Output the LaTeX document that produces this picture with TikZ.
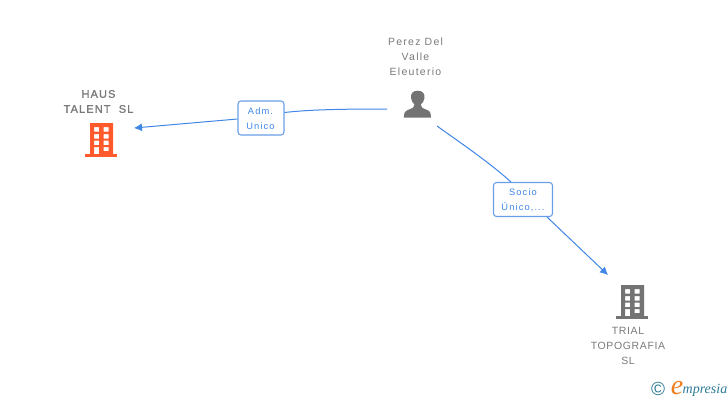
\documentclass[tikz,border=0pt]{standalone}
\usepackage{fontspec}
\setmainfont{Liberation Sans}
\newfontfamily\spacedfont[LetterSpace=12]{Liberation Sans}
\newfontfamily\tightspaced[LetterSpace=6]{Liberation Sans}
\newfontfamily\boldspaced[LetterSpace=10,FakeBold=1.5,WordSpace=2]{Liberation Sans}
\newfontfamily\logofont{Liberation Serif}
\usetikzlibrary{arrows.meta}
\definecolor{linkblue}{HTML}{3F86E6}
\definecolor{boxblue}{HTML}{6A9FE6}
\definecolor{txtgray}{HTML}{7A7A7A}
\definecolor{icongray}{HTML}{737373}
\definecolor{iconorange}{HTML}{FF5A2C}
\definecolor{logoteal}{HTML}{2C7A96}
\definecolor{logoorange}{HTML}{EE7D1E}
\tikzset{
  nametext/.style={text=txtgray,align=center,font=\fontsize{10.5}{15}\selectfont\spacedfont,inner sep=0pt},
  trialtext/.style={text=txtgray,align=center,font=\fontsize{10.5}{15}\selectfont\tightspaced,inner sep=0pt},
  boldname/.style={text=txtgray,align=center,font=\fontsize{11}{15}\selectfont\boldspaced,inner sep=0pt},
  rolebox/.style={draw=boxblue,line width=1.1pt,rounded corners=3pt,fill=white,inner sep=0pt},
  roletext/.style={text=linkblue,align=center,font=\fontsize{9.3}{15}\selectfont\spacedfont,inner sep=0pt},
  link/.style={draw=linkblue,line width=1pt},
  linkarrow/.style={link,-{Latex[length=8pt,width=8pt]}},
  iconspot/.style={inner sep=0pt,minimum width=#1,minimum height=#1},
}
\newcommand{\buildingicon}[3]{%
  \begin{scope}[shift={(#1,#2)}]
    \fill[#3] (85,154) rectangle (117,157);
    \fill[#3,even odd rule] (90,123) rectangle (113,154)
      (94,127) rectangle (99,131.5) (103.5,127) rectangle (108.5,131.5)
      (94,134) rectangle (99,138.5) (103.5,134) rectangle (108.5,138.5)
      (94,140.5) rectangle (99,145) (103.5,140.5) rectangle (108.5,145)
      (94,147) rectangle (99,154) (103.5,147) rectangle (108.5,151);
  \end{scope}}
\begin{document}
\begin{tikzpicture}[x=1pt,y=-1pt]
\useasboundingbox (0,0) rectangle (728,400);
\node[boldname] (haus) at (98.5,101.5) {HAUS\\TALENT SL};
\node[nametext] (perez) at (415.5,57) {Perez Del\\Valle\\Eleuterio};
\node[trialtext] (trial) at (628,346) {TRIAL\\TOPOGRAFIA\\SL};
\node[iconspot=32pt] (hausicon) at (101,140) {};
\node[iconspot=32pt] (trialicon) at (632,302) {};
\node[iconspot=28pt] (personicon) at (417.5,104) {};
\buildingicon{0}{0}{iconorange}
\buildingicon{531}{162}{icongray}
\fill[icongray] (417.7,90.7) .. controls (412.5,90.7) and (410.5,94) .. (411,98)
  .. controls (411.3,101) and (413,103) .. (414.5,104.5)
  .. controls (414.5,107) and (413,108) .. (409,109.5)
  .. controls (405,111) and (404,112) .. (403.8,117.7)
  -- (431,117.7)
  .. controls (430.8,112) and (430,111) .. (426,109.5)
  .. controls (422,108) and (420.8,107) .. (420.8,104.5)
  .. controls (422.5,103) and (424.2,101) .. (424.5,98)
  .. controls (425,94) and (423,90.7) .. (417.7,90.7) -- cycle;
\node[rolebox,minimum width=46pt,minimum height=34pt] (adm) at (261,118) {};
\node[roletext] (admtext) at (260.5,119) {Adm.\\Unico};
\node[rolebox,minimum width=59pt,minimum height=34pt] (socio) at (523,199.5) {};
\node[roletext] (sociotext) at (523,200.5) {Socio\\Único,...};
\coordinate (pl) at (387,109);
\coordinate (pr) at (437,126);
\coordinate (ha) at (134,128);
\coordinate (tr) at (608,275);
\draw[link] (pl) .. controls (345,109) and (310,109.5) .. (adm.east |- 0,112.5);
\draw[linkarrow] (adm.west |- 0,119) -- (ha);
\draw[link] (pr) .. controls (465,146) and (490,163) .. (511,182);
\draw[linkarrow] (547,217) -- (tr);
\node[text=logoteal,font=\fontsize{19}{19}\selectfont,inner sep=0pt] (copy) at (658,389) {©};
\node[text=logoorange,font=\fontsize{28}{28}\selectfont\logofont\itshape,inner sep=0pt] (elogo) at (677,388.5) {e};
\node[text=logoteal,font=\fontsize{14}{14}\selectfont\logofont\itshape,inner sep=0pt,anchor=base west] (mlogo) at (682.5,393) {mpresia};
\end{tikzpicture}
\end{document}
